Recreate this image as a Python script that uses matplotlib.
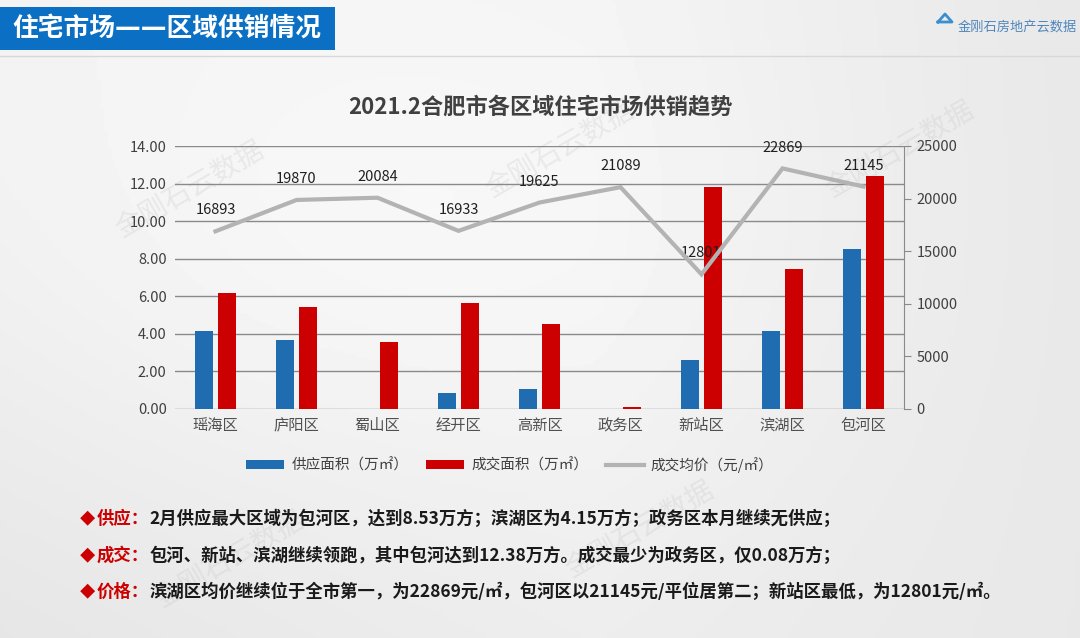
import numpy as np
import matplotlib
matplotlib.use("Agg")
import matplotlib.pyplot as plt
from matplotlib.patches import Rectangle, Patch
from matplotlib.lines import Line2D

plt.rcParams["font.family"] = ["Noto Sans CJK SC", "DejaVu Sans"]

# data
districts = ["瑶海区", "庐阳区", "蜀山区", "经开区", "高新区", "政务区", "新站区", "滨湖区", "包河区"]
supply_area = [4.13, 3.67, 0.0, 0.83, 1.05, 0.0, 2.60, 4.15, 8.53]
deal_area = [6.16, 5.41, 3.55, 5.66, 4.52, 0.08, 11.80, 7.43, 12.38]
avg_price = [16893, 19870, 20084, 16933, 19625, 21089, 12801, 22869, 21145]

left_ticks = [0, 2, 4, 6, 8, 10, 12, 14]
right_ticks = [0, 5000, 10000, 15000, 20000, 25000]

notes = [
    ("供应：", "2月供应最大区域为包河区，达到8.53万方；滨湖区为4.15万方；政务区本月继续无供应；"),
    ("成交：", "包河、新站、滨湖继续领跑，其中包河达到12.38万方。成交最少为政务区，仅0.08万方；"),
    ("价格：", "滨湖区均价继续位于全市第一，为22869元/㎡，包河区以21145元/平位居第二；新站区最低，为12801元/㎡。"),
]

W, H = 1080, 638
fig = plt.figure(figsize=(W / 100, H / 100), dpi=100)

# background: soft gray gradient
bg = fig.add_axes([0, 0, 1, 1])
yy, xx = np.mgrid[0:1:200j, 0:1:300j]
grad = 0.95 - 0.06 * np.clip((xx - 0.55) * 1.5, 0, 1) - 0.05 * yy * (1 - xx) + 0.03 * np.exp(-((xx - 0.35) ** 2 + (yy - 0.4) ** 2) * 6)
bg.imshow(grad, cmap="gray", vmin=0, vmax=1, extent=[0, W, H, 0], aspect="auto")
bg.set_xlim(0, W)
bg.set_ylim(H, 0)
bg.axis("off")

# faint watermarks
for x, y in [(190, 190), (560, 150), (900, 150), (230, 560), (640, 530)]:
    bg.text(x, y, "金刚石云数据", fontsize=20, color="#c0c0c0", alpha=0.25,
            rotation=30, ha="center", va="center")

# header banner
bg.add_patch(Rectangle((0, 7), 335, 43, facecolor="#0b70c4", edgecolor="none"))
bg.text(12, 29, "住宅市场——区域供销情况", fontsize=18.5, color="white",
        fontweight="bold", va="center", ha="left", family=["DejaVu Sans", "Noto Sans CJK SC"])
bg.plot([0, W], [56, 56], color="#d8d8d8", lw=1)
bg.plot([938, 952, 945, 938], [22, 22, 14, 22], color="#3a8fd0", lw=2)
bg.text(958, 27, "金刚石房地产云数据", fontsize=9.5, color="#4f86bd", va="center", ha="left")

# chart title
bg.text(540, 107, "2021.2合肥市各区域住宅市场供销趋势", fontsize=16, color="#404040",
        fontweight="bold", ha="center", va="center")

# main chart
ax = fig.add_axes([175 / W, 1 - 409 / H, (904 - 175) / W, (409 - 146) / H])
ax.patch.set_alpha(0)
x = np.arange(len(districts))
bw = 0.22
ax.bar(x - 0.14, supply_area, bw, color="#1f6cb0", zorder=3)
ax.bar(x + 0.14, deal_area, bw, color="#cc0000", zorder=3)
ax.set_xlim(-0.5, len(districts) - 0.5)
ax.set_ylim(0, 14)
ax.set_yticks(left_ticks)
ax.set_yticklabels([f"{v:.2f}" for v in left_ticks], fontsize=10.5, color="#404040")
ax.set_xticks(x)
ax.set_xticklabels(districts, fontsize=11, color="#505050")
ax.tick_params(axis="both", length=0, pad=6)
ax.grid(axis="y", color="#8a8a8a", lw=1, zorder=0)
for s in ax.spines.values():
    s.set_visible(False)

ax2 = ax.twinx()
ax2.plot(x, avg_price, color="#b3b3b3", lw=3, zorder=4, solid_joinstyle="miter")
for xi, v in zip(x, avg_price):
    ax2.annotate(str(v), (xi, v), xytext=(0, 10), textcoords="offset points",
                 ha="center", va="bottom", fontsize=10.5, color="#202020")
ax2.set_ylim(0, 25000)
ax2.set_yticks(right_ticks)
ax2.set_yticklabels([str(v) for v in right_ticks], fontsize=10.5, color="#404040")
ax2.tick_params(axis="y", length=5, color="#8a8a8a", direction="out", pad=4)
for k, s in ax2.spines.items():
    s.set_visible(k == "right")
ax2.spines["right"].set_color("#8a8a8a")

# legend
handles = [
    Patch(facecolor="#1f6cb0", label="供应面积（万㎡）"),
    Patch(facecolor="#cc0000", label="成交面积（万㎡）"),
    Line2D([0], [0], color="#b3b3b3", lw=3, label="成交均价（元/㎡）"),
]
fig.legend(handles=handles, loc="center", bbox_to_anchor=(510 / W, 1 - 465 / H), ncol=3,
           frameon=False, fontsize=10.5, handlelength=2.6, handleheight=0.6,
           columnspacing=1.2, handletextpad=0.5, labelcolor="#404040")

# notes
for i, (lab, body) in enumerate(notes):
    y = 519 + i * 36.5
    bg.text(80, y, "◆", fontsize=11, color="#cc0000", va="center", ha="left")
    t = bg.text(97, y, lab, fontsize=12.5, color="#cc0000", fontweight="bold", va="center", ha="left")
    bg.annotate(body, xy=(1, 0.5), xycoords=t, va="center", ha="left",
                fontsize=12.5, color="#1a1a1a", fontweight="bold")

fig.savefig("out.png", dpi=100)
